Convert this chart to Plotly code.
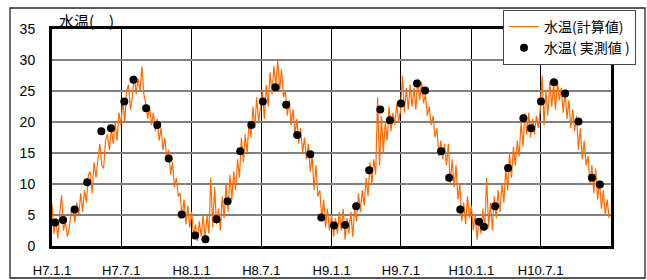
import pandas as pd
import plotly.graph_objects as go

# ---- data ----
tick_dates = ['1995-01-01', '1995-07-01', '1996-01-01', '1996-07-01',
              '1997-01-01', '1997-07-01', '1998-01-01', '1998-07-01']
tick_labels = ['H7.1.1', 'H7.7.1', 'H8.1.1', 'H8.7.1',
               'H9.1.1', 'H9.7.1', 'H10.1.1', 'H10.7.1']

# calculated water temperature, 5-day samples per year
calc_1995 = [6.8, 2.0, 4.5, 1.2, 5.0, 8.2, 2.5,
             4.0, 1.5, 2.8, 5.5, 6.0,
             3.8, 7.0, 5.0, 8.5, 5.5, 9.0,
             7.0, 11.5, 12.0, 8.5, 13.5, 11.0,
             14.0, 16.5, 13.0, 12.5, 17.0, 18.0,
             15.5, 19.0, 16.5, 20.0, 17.0, 21.5, 19.5,
             23.5, 20.0, 25.0, 26.0, 22.0, 24.0,
             27.5, 24.5, 27.0, 25.0, 29.0, 24.5,
             23.0, 20.5, 22.5, 19.5, 21.5, 18.5,
             20.5, 17.0, 19.0, 15.5, 17.5, 14.0,
             15.5, 11.5, 13.5, 9.5, 11.0, 8.0,
             8.5, 4.5, 7.5, 3.5, 6.5, 3.0]
calc_1996 = [5.5, 1.5, 3.5, 0.8, 4.0, 1.5, 5.0,
             1.2, 5.0, 2.0, 11.0, 3.0,
             9.5, 3.5, 6.0, 2.5, 8.0, 4.5,
             10.0, 5.5, 11.5, 7.5, 12.0, 9.0,
             14.0, 11.0, 17.5, 13.5, 18.0, 15.0,
             20.0, 17.5, 22.5, 19.0, 24.0, 20.0, 23.0,
             25.0, 20.5, 26.0, 22.5, 28.0, 24.5,
             29.0, 26.0, 30.0, 25.0, 28.5, 24.0,
             25.0, 21.0, 23.5, 19.5, 22.0, 18.0,
             20.5, 16.5, 19.0, 15.0, 17.5, 14.0,
             16.5, 12.0, 14.5, 9.0, 13.0, 8.0,
             9.0, 4.5, 7.5, 3.0, 6.0, 2.5]
calc_1997 = [5.0, 1.5, 4.5, 2.0, 5.5, 2.5, 6.0,
             1.0, 4.5, 2.0, 5.5, 1.5,
             6.0, 4.0, 8.5, 5.5, 9.0, 6.5,
             11.0, 8.0, 13.5, 10.0, 14.0, 11.5,
             24.0, 13.0, 21.0, 15.0, 20.0, 17.0,
             22.5, 18.5, 21.5, 19.5, 23.0, 20.0, 22.0,
             27.5, 21.5, 25.5, 22.0, 26.0, 22.5,
             25.5, 22.0, 27.0, 23.5, 26.5, 23.0,
             24.5, 21.0, 22.5, 19.5, 21.0, 17.5,
             19.0, 14.5, 17.0, 14.0, 16.5, 13.0,
             16.5, 10.0, 14.0, 9.5, 13.0, 7.5,
             10.0, 4.0, 7.0, 3.5, 8.0, 4.5]
calc_1998 = [6.5, 2.5, 5.0, 1.0, 4.5, 2.0, 6.0,
             2.5, 11.0, 3.0, 7.0, 2.5,
             8.0, 4.5, 9.0, 5.5, 10.0, 7.0,
             12.5, 9.0, 15.0, 11.0, 16.0, 13.0,
             17.0, 14.5, 20.0, 16.0, 21.5, 18.0,
             21.5, 17.5, 20.5, 18.0, 21.0, 19.0, 22.0,
             27.5, 19.5, 25.0, 21.0, 26.5, 22.5,
             26.0, 22.0, 26.5, 23.5, 25.5, 21.5,
             25.0, 20.5, 23.5, 19.0, 22.0, 18.5,
             21.0, 15.5, 19.0, 14.0, 17.0, 13.0,
             14.5, 10.0, 13.0, 8.5, 12.5, 7.5,
             10.5, 6.0, 9.0, 5.0, 7.5, 4.5]
calc_years = {1995: calc_1995, 1996: calc_1996, 1997: calc_1997, 1998: calc_1998}

# measured water temperature
meas_dates = ['1995-01-09', '1995-01-30', '1995-03-01', '1995-04-03', '1995-05-10', '1995-06-04',
              '1995-07-09', '1995-08-02', '1995-09-04', '1995-10-03', '1995-11-02', '1995-12-06',
              '1996-01-10', '1996-02-06', '1996-03-06', '1996-04-04', '1996-05-07', '1996-06-05',
              '1996-07-05', '1996-08-07', '1996-09-04', '1996-10-03', '1996-11-06', '1996-12-05',
              '1997-01-07', '1997-02-05', '1997-03-06', '1997-04-09', '1997-05-08', '1997-06-02',
              '1997-07-01', '1997-08-12', '1997-09-02', '1997-10-14', '1997-11-04', '1997-12-03',
              '1998-01-21', '1998-02-03', '1998-03-04', '1998-04-07', '1998-05-17', '1998-06-06',
              '1998-07-02', '1998-08-05', '1998-09-03', '1998-10-08', '1998-11-12', '1998-12-03']
meas_vals = [3.8, 4.2, 5.9, 10.3, 18.5, 19.0, 23.3, 26.8, 22.2, 19.5, 14.1, 5.1,
             1.7, 1.1, 4.3, 7.2, 15.3, 19.5, 23.3, 25.6, 22.8, 17.9, 14.8, 4.6,
             3.3, 3.4, 6.4, 12.2, 22.0, 20.3, 23.0, 26.2, 25.1, 15.3, 11.0, 5.9,
             3.9, 3.1, 6.4, 12.6, 20.6, 19.0, 23.3, 26.4, 24.6, 20.1, 11.0, 9.9]

# ---- build series ----
calc_x, calc_y = [], []
for yr, vals in calc_years.items():
    d = pd.date_range(f'{yr}-01-01', periods=len(vals), freq='5D')
    calc_x += list(d)
    calc_y += vals

W, H = 647, 280
L, R, T, B = 52, 36, 29, 34
pw, ph = W - L - R, H - T - B

def px_x(x):
    return (x - L) / pw

def px_y(y):
    return (H - B - y) / ph

jp = 'Noto Sans CJK JP'
lat = 'Liberation Sans, Arial, sans-serif'

fig = go.Figure()
fig.add_trace(go.Scatter(x=calc_x, y=calc_y, mode='lines', name='水温(計算値)',
                         line=dict(color='#FF6A00', width=1.2)))
fig.add_trace(go.Scatter(x=meas_dates, y=meas_vals, mode='markers', name='水温( 実測値 )',
                         marker=dict(color='black', size=8)))

fig.update_layout(
    width=W, height=H,
    margin=dict(l=L, r=R, t=T, b=B, autoexpand=False),
    paper_bgcolor='white', plot_bgcolor='white',
    showlegend=True,
    legend=dict(x=px_x(503), y=px_y(10), xanchor='left', yanchor='top',
                bgcolor='white', bordercolor='#444', borderwidth=1,
                font=dict(family=jp, size=14, color='black'),
                tracegroupgap=0, itemwidth=30),
    xaxis=dict(type='date', range=['1995-01-01', '1999-01-01'],
               tickvals=tick_dates, ticktext=tick_labels,
               tickfont=dict(family=lat, size=13, color='black'),
               showgrid=True, gridcolor='black', gridwidth=1,
               showline=True, linecolor='black', linewidth=3, mirror=True,
               ticks='', ticklabelstandoff=10, zeroline=False),
    yaxis=dict(range=[0, 35], tickvals=[0, 5, 10, 15, 20, 25, 30, 35],
               tickfont=dict(family=lat, size=14, color='black'),
               showgrid=True, gridcolor='#808080', gridwidth=2,
               showline=True, linecolor='black', linewidth=3, mirror=True,
               ticks='', ticklabelstandoff=11, zeroline=False),
    annotations=[dict(text='水温(　)', xref='paper', yref='paper',
                      x=px_x(57), y=px_y(21), xanchor='left', yanchor='middle',
                      showarrow=False, font=dict(family=jp, size=15, color='black'))],
    shapes=[dict(type='rect', xref='paper', yref='paper',
                 x0=px_x(10), x1=px_x(645), y0=px_y(278), y1=px_y(8),
                 line=dict(color='#222', width=1.3), layer='below')],
)

fig.write_html('out.html', config={'displayModeBar': False},
               post_script="document.body.style.margin='0px';document.body.style.overflow='hidden';")
